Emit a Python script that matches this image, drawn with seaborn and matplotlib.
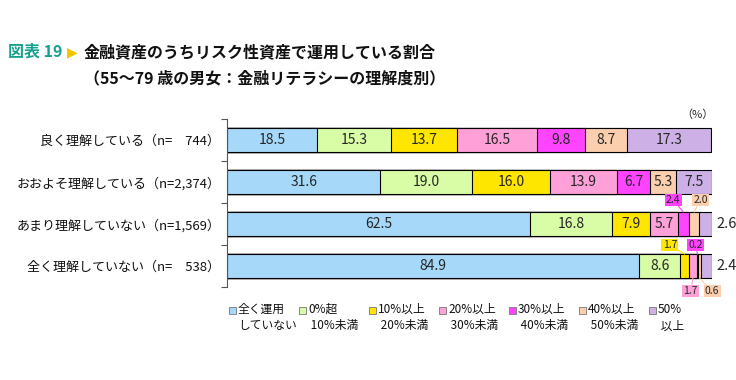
import pandas as pd
import matplotlib
matplotlib.use("Agg")
import matplotlib.pyplot as plt
from matplotlib.patches import Rectangle
import seaborn as sns

# datos
niveles = ["良く理解している（n=　744）", "おおよそ理解している（n=2,374）",
           "あまり理解していない（n=1,569）", "全く理解していない（n=　538）"]
categorias = ["全く運用\nしていない", "0%超\n 10%未満", "10%以上\n 20%未満", "20%以上\n 30%未満",
              "30%以上\n 40%未満", "40%以上\n 50%未満", "50%\n 以上"]
colores = ["#A6D8FA", "#D9FCA6", "#FFE600", "#FFA0D8", "#FF44FF", "#FBCFAE", "#CDB0E6"]
valores = [
    [18.5, 15.3, 13.7, 16.5, 9.8, 8.7, 17.3],
    [31.6, 19.0, 16.0, 13.9, 6.7, 5.3, 7.5],
    [62.5, 16.8, 7.9, 5.7, 2.4, 2.0, 2.6],
    [84.9, 8.6, 1.7, 1.7, 0.2, 0.6, 2.4],
]

# etiquetas pequeñas fuera de la barra: (fila, col) -> posicion caja (x, dy)
callouts = {
    (2, 4): (92.0, -0.57), (2, 5): (97.6, -0.57),
    (3, 2): (91.3, -0.50), (3, 4): (96.6, -0.50),
    (3, 3): (95.6, 0.60), (3, 5): (100.0, 0.60),
}
fuera = [(2, 6), (3, 6)]

sns.set_theme(style="white")
plt.rcParams['font.family'] = ['Noto Sans CJK JP', 'DejaVu Sans']

W, H = 736, 380
fig = plt.figure(figsize=(W / 100, H / 100), dpi=100)
ax = fig.add_axes([227 / W, 1 - 287 / H, (712 - 227) / W, (287 - 119) / H])

df = pd.DataFrame(valores, columns=range(7))
df["nivel"] = niveles
cum = df[list(range(7))].cumsum(axis=1)

# barras apiladas: se dibuja del acumulado mayor al menor
for k in range(6, -1, -1):
    d = pd.DataFrame({"nivel": niveles, "x": cum[k]})
    sns.barplot(data=d, x="x", y="nivel", color=colores[k], orient="h", width=0.57,
                edgecolor="black", linewidth=0.8, saturation=1, ax=ax)

ax.set_xlim(0, 100)
ax.set_ylim(3.5, -0.5)
ax.set_xlabel("")
ax.set_ylabel("")
ax.set_xticks([])
for s in ["top", "right", "bottom"]:
    ax.spines[s].set_visible(False)
ax.spines["left"].set_color("#555555")
ax.spines["left"].set_linewidth(0.8)
ax.set_yticks(range(4))
ax.set_yticklabels(niveles, fontsize=9.4, color="#111111")
ax.set_yticks([-0.5, 0.5, 1.5, 2.5, 3.5], minor=True)
ax.tick_params(axis="y", which="major", length=0, pad=5)
ax.tick_params(axis="y", which="minor", length=4, width=0.8, color="#555555", left=True)

# valores
for i in range(4):
    for k in range(7):
        v = valores[i][k]
        ini = cum.iloc[i, k] - v
        centro = ini + v / 2
        if (i, k) in callouts:
            bx, dy = callouts[(i, k)]
            borde = i - 0.285 if dy < 0 else i + 0.285
            ax.annotate(f"{v:.1f}", xy=(centro, borde), xytext=(bx, i + dy),
                        ha="center", va="center", fontsize=7.5, annotation_clip=False,
                        bbox=dict(boxstyle="square,pad=0.12", fc=colores[k], ec="none"),
                        arrowprops=dict(arrowstyle="-", color=colores[k], lw=0.8,
                                        shrinkA=0, shrinkB=0))
        elif (i, k) in fuera:
            ax.text(101, i, f"{v:.1f}", ha="left", va="center", fontsize=10.5, clip_on=False)
        else:
            ax.text(centro, i, f"{v:.1f}", ha="center", va="center", fontsize=10)

fig.text(697 / W, 1 - 115 / H, "（%）", ha="center", va="center", fontsize=8)

# titulo
fig.text(8 / W, 1 - 52 / H, "図表 19", color="#17A08C", fontsize=11.5, fontweight="bold",
         ha="left", va="center")
fig.text(67 / W, 1 - 52 / H, "▶", color="#F5C400", fontsize=10, ha="left", va="center",
         family=["DejaVu Sans"])
fig.text(84 / W, 1 - 52 / H, "金融資産のうちリスク性資産で運用している割合", color="#111111",
         fontsize=11.5, fontweight="bold", ha="left", va="center")
fig.text(84 / W, 1 - 78 / H, "（55～79 歳の男女：金融リテラシーの理解度別）", color="#111111",
         fontsize=11.5, fontweight="bold", ha="left", va="center")

# leyenda
for k, (lab, c) in enumerate(zip(categorias, colores)):
    x0 = 229 + 70 * k
    fig.patches.append(Rectangle((x0 / W, 1 - 314 / H), 7 / W, 7 / H, transform=fig.transFigure,
                                 fc=c, ec="#777777", lw=0.6))
    fig.text((x0 + 9) / W, 1 - 303 / H, lab, fontsize=8.5, ha="left", va="top",
             linespacing=1.35, color="#111111")

fig.savefig("out.png", dpi=100)
